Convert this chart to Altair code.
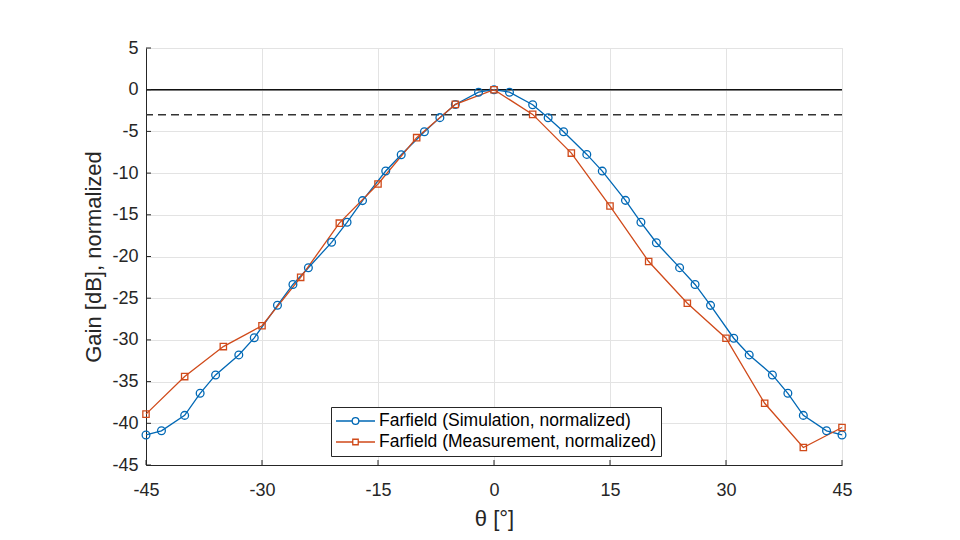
import altair as alt
import pandas as pd

# ---- data ----
sim_theta = [-45, -43, -40, -38, -36, -33, -31, -28, -26, -24, -21, -19, -17, -14, -12, -9, -7, -5, -2, 0,
             2, 5, 7, 9, 12, 14, 17, 19, 21, 24, 26, 28, 31, 33, 36, 38, 40, 43, 45]
sim_gain = [-41.4, -40.9, -39.05, -36.4, -34.2, -31.8, -29.75, -25.85, -23.35, -21.35, -18.3, -15.9, -13.3,
            -9.75, -7.8, -5.05, -3.35, -1.78, -0.3, 0.0,
            -0.3, -1.8, -3.36, -5.04, -7.76, -9.76, -13.27, -15.9, -18.35, -21.34, -23.35, -25.86, -29.8,
            -31.8, -34.2, -36.4, -39.05, -40.9, -41.4]
meas_theta = [-45, -40, -35, -30, -25, -20, -15, -10, -5, 0, 5, 10, 15, 20, 25, 30, 35, 40, 45]
meas_gain = [-38.9, -34.4, -30.8, -28.3, -22.5, -16.0, -11.3, -5.75, -1.76, 0.0,
             -2.96, -7.6, -13.95, -20.6, -25.6, -29.8, -37.6, -42.9, -40.5]

x_ticks = [-45, -30, -15, 0, 15, 30, 45]
y_ticks = [5, 0, -5, -10, -15, -20, -25, -30, -35, -40, -45]
ref_levels = [0, -3]

SIM = "Farfield (Simulation, normalized)"
MEAS = "Farfield (Measurement, normalized)"
BLUE = "#0068B5"
RED = "#D04A1A"
FONT = "Liberation Sans"

sim_df = pd.DataFrame({"theta": sim_theta, "gain": sim_gain, "series": SIM})
meas_df = pd.DataFrame({"theta": meas_theta, "gain": meas_gain, "series": MEAS})
all_df = pd.concat([sim_df, meas_df], ignore_index=True)

W, H = 696, 417

xscale = alt.Scale(domain=[-45, 45], nice=False, zero=False)
yscale = alt.Scale(domain=[-45, 5], nice=False, zero=False)

xaxis = alt.Axis(values=x_ticks, title="θ [°]", grid=True, ticks=False, labelPadding=16,
                 labelFlush=False, labelExpr="'' + datum.value", titlePadding=9)
yaxis = alt.Axis(values=y_ticks, title="Gain [dB], normalized", grid=True, ticks=False, labelPadding=8,
                 labelFlush=False, labelExpr="'' + datum.value", titlePadding=6)

X = alt.X("theta:Q", scale=xscale, axis=xaxis)
Y = alt.Y("gain:Q", scale=yscale, axis=yaxis)

base_sim = alt.Chart(sim_df)
base_meas = alt.Chart(meas_df)

zero_line = alt.Chart(pd.DataFrame({"lvl": [ref_levels[0]]})).mark_rule(
    color="#111111", strokeWidth=1.4).encode(y=alt.Y("lvl:Q", scale=yscale, axis=yaxis))
dash_line = alt.Chart(pd.DataFrame({"lvl": [ref_levels[1]]})).mark_rule(
    color="#333333", strokeWidth=1.6, strokeDash=[8, 5]).encode(y=alt.Y("lvl:Q", scale=yscale, axis=yaxis))

sim_line = base_sim.mark_line(color=BLUE, strokeWidth=1.3).encode(x=X, y=Y)
meas_line = base_meas.mark_line(color=RED, strokeWidth=1.3).encode(x=X, y=Y)
sim_pts = base_sim.mark_point(shape="circle", filled=False, color=BLUE, size=60, strokeWidth=1.3, opacity=1).encode(x=X, y=Y)
meas_pts = base_meas.mark_point(shape="square", filled=False, color=RED, size=40, strokeWidth=1.3, opacity=1).encode(x=X, y=Y)

# inward ticks like the reference
xt = alt.Chart(pd.DataFrame({"t": x_ticks})).mark_rule(color="#262626", strokeWidth=1).encode(
    x=alt.X("t:Q", scale=xscale, axis=xaxis), y=alt.value(H), y2=alt.value(H - 5))
yt = alt.Chart(pd.DataFrame({"t": y_ticks})).mark_rule(color="#262626", strokeWidth=1).encode(
    y=alt.Y("t:Q", scale=yscale, axis=yaxis), x=alt.value(0), x2=alt.value(5))

# legend layer (no visible data marks, just drives the legend)
sim_sym = "M-1,0L-0.17,0M0.17,0L1,0M-0.17,0A0.17,0.17,0,1,1,0.17,0A0.17,0.17,0,1,1,-0.17,0Z"
meas_sym = "M-1,0L-0.14,0M0.14,0L1,0M-0.14,-0.14L0.14,-0.14L0.14,0.14L-0.14,0.14Z"
leg = alt.Legend(orient="none", legendX=185, legendY=359, title=None, fillColor="white",
                 strokeColor="#262626", padding=4, symbolSize=1521, symbolStrokeWidth=1.3,
                 labelFont=FONT, labelFontSize=17.5, labelColor="#000000", labelOffset=3,
                 clipHeight=20, rowPadding=1, symbolOffset=0, labelLimit=400)
legend_layer = alt.Chart(all_df).mark_point(filled=False, opacity=1).encode(
    x=X, y=Y,
    color=alt.Color("series:N", scale=alt.Scale(domain=[SIM, MEAS], range=[BLUE, RED]), legend=leg),
    shape=alt.Shape("series:N", scale=alt.Scale(domain=[SIM, MEAS], range=[sim_sym, meas_sym]), legend=leg),
).transform_filter(alt.datum.series == "none")

chart = alt.layer(
    zero_line, dash_line, sim_line, meas_line, sim_pts, meas_pts, xt, yt, legend_layer
).properties(
    width=W, height=H,
    padding={"left": 138, "top": 40, "right": 100, "bottom": 66},
    autosize=alt.AutoSizeParams(type="none"),
    background="white",
).configure(font=FONT).configure_view(
    stroke="#E3E3E3", strokeWidth=1
).configure_axis(
    gridColor="#E3E3E3", gridWidth=1, domainColor="#262626", domainWidth=1,
    labelFont=FONT, labelFontSize=18, labelColor="#262626",
    titleFont=FONT, titleFontSize=22, titleFontWeight="normal", titleColor="#262626",
)

chart.save("out.html", embed_options={"renderer": "svg", "actions": False})
